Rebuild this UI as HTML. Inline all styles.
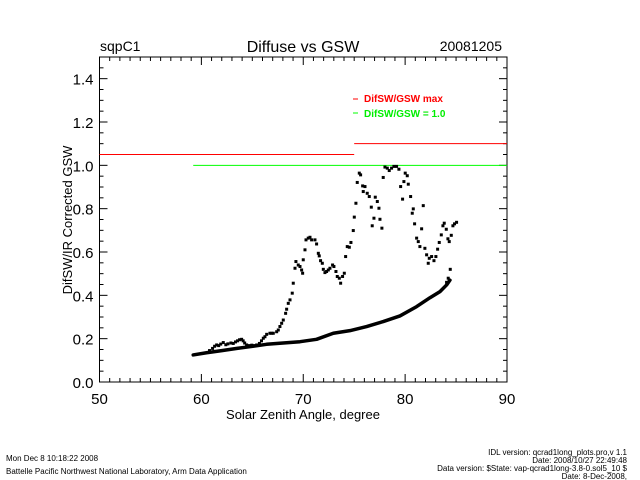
<!DOCTYPE html>
<html><head><meta charset="utf-8"><style>
body{margin:0;background:#fff;}
svg{display:block;font-family:"Liberation Sans",sans-serif;}
</style></head><body>
<svg id="chart" width="640" height="480" viewBox="0 0 640 480" xmlns="http://www.w3.org/2000/svg">
<rect width="640" height="480" fill="#fff"/>
<text x="100" y="51" font-size="14">sqpC1</text>
<text x="303" y="52" font-size="16" text-anchor="middle">Diffuse vs GSW</text>
<text x="502" y="51" font-size="14" text-anchor="end">20081205</text>
<g id="axes"></g>
<g id="marks"></g>
<text x="303" y="419" font-size="13" text-anchor="middle">Solar Zenith Angle, degree</text>
<text transform="translate(72,220) rotate(-90)" font-size="13" text-anchor="middle">DifSW/IR Corrected GSW</text>
<g font-size="10" font-weight="bold">
<line x1="353" y1="99" x2="358" y2="99" stroke="#f00"/>
<text x="364" y="102" fill="#f00">DifSW/GSW max</text>
<line x1="353" y1="113" x2="358" y2="113" stroke="#0f0"/>
<text x="364" y="117" fill="#0e0">DifSW/GSW = 1.0</text>
</g>
<g font-size="8">
<text x="6" y="461">Mon Dec  8 10:18:22 2008</text>
<text x="6" y="474">Battelle Pacific Northwest National Laboratory, Arm Data Application</text>
<text x="627" y="455" text-anchor="end">IDL version: qcrad1long_plots.pro,v 1.1</text>
<text x="627" y="463" text-anchor="end">Date: 2008/10/27 22:49:48</text>
<text x="627" y="471" text-anchor="end">Data version: $State: vap-qcrad1long-3.8-0.sol5_10 $</text>
<text x="627" y="479" text-anchor="end">Date: 8-Dec-2008,</text>
</g>
</svg>
<script>
const xTicks=[50,60,70,80,90];
const yTicks=[0.0,0.2,0.4,0.6,0.8,1.0,1.2,1.4];
const yTickLabels=["0.0","0.2","0.4","0.6","0.8","1.0","1.2","1.4"];
const maxLineX1=[50,75];const maxLineX2=[75,90];const maxLineY=[1.05,1.1];
const oneLineX=[59.2,90];const oneLineY=1.0;
const upperX=[60.8,61.1,61.3,61.5,61.7,61.9,62.15,62.4,62.6,62.9,63.13,63.35,63.55,63.75,63.95,64.1,64.25,64.44,64.7,64.95,65.2,65.43,65.7,65.9,66.08,66.24,66.41,66.73,66.9,67.06,67.39,67.55,67.71,67.88,68.04,68.27,68.37,68.53,68.7,68.92,69.02,69.19,69.28,69.51,69.68,69.84,69.94,70.0,70.17,70.27,70.49,70.66,70.82,71.15,71.31,71.48,71.57,71.7,71.87,71.97,72.13,72.29,72.46,72.62,72.88,73.01,73.21,73.34,73.54,73.67,73.86,74.03,74.16,74.32,74.52,74.68,74.91,75.01,75.17,75.3,75.5,75.63,75.83,76.06,75.89,76.28,76.48,76.68,76.94,76.77,77.07,77.27,77.43,77.53,77.72,77.85,78.02,78.25,78.44,78.67,78.9,79.16,79.39,79.56,79.75,79.88,80.01,80.21,80.31,80.54,80.7,80.8,80.93,81.13,81.29,81.45,81.62,81.78,81.94,82.11,82.27,82.37,82.6,82.83,83.02,83.19,83.35,83.55,83.71,83.84,84.04,84.2,84.33,84.53,84.69,84.85,85.05,84.43,84.23,84.07];
const upperY=[0.145,0.155,0.165,0.171,0.168,0.175,0.182,0.172,0.176,0.18,0.178,0.185,0.19,0.195,0.197,0.19,0.18,0.171,0.168,0.17,0.168,0.171,0.178,0.19,0.202,0.209,0.22,0.225,0.225,0.225,0.232,0.24,0.256,0.271,0.286,0.317,0.336,0.363,0.379,0.41,0.456,0.525,0.556,0.54,0.533,0.517,0.502,0.564,0.61,0.656,0.664,0.668,0.656,0.656,0.637,0.594,0.582,0.56,0.548,0.52,0.505,0.51,0.517,0.525,0.54,0.533,0.51,0.487,0.479,0.456,0.487,0.502,0.579,0.625,0.622,0.644,0.699,0.761,0.825,0.921,0.964,0.956,0.905,0.902,0.879,0.871,0.856,0.807,0.756,0.721,0.853,0.833,0.802,0.751,0.71,0.944,0.992,0.987,0.976,0.987,0.995,0.995,0.982,0.902,0.844,0.925,0.964,0.952,0.913,0.856,0.779,0.799,0.73,0.664,0.648,0.625,0.707,0.814,0.617,0.587,0.548,0.571,0.579,0.56,0.579,0.613,0.644,0.679,0.721,0.733,0.705,0.661,0.648,0.677,0.721,0.73,0.737,0.52,0.479,0.46];
const lowerX=[59.2,60.5,62,63.5,64.77,66.4,67.7,69.68,71.31,72.95,74.58,76.22,77.85,79.49,81.13,82.44,83.42,84.07,84.4];
const lowerY=[0.125,0.135,0.145,0.155,0.163,0.174,0.179,0.186,0.197,0.225,0.237,0.256,0.279,0.305,0.348,0.389,0.417,0.448,0.47];
const NS='http://www.w3.org/2000/svg';
const L=99.5,R=507,T=57,B=382,XMIN=50,XMAX=90,YMIN=0,YMAX=1.5;
function sx(v){return L+(v-XMIN)/(XMAX-XMIN)*(R-L);}
function sy(v){return B-(v-YMIN)/(YMAX-YMIN)*(B-T);}
function mk(tag,attrs,parent){const e=document.createElementNS(NS,tag);for(const k in attrs)e.setAttribute(k,attrs[k]);parent.appendChild(e);return e;}
const axes=document.getElementById('axes');const marks=document.getElementById('marks');
const frame=mk('rect',{x:L,y:T,width:R-L,height:B-T,fill:'none',stroke:'#000','stroke-width':1},axes);


for(let v=XMIN;v<=XMAX;v+=1){const big=v%10===0;const len=big?8:4;
 mk('line',{x1:sx(v),x2:sx(v),y1:B,y2:B-len,stroke:'#000'},axes);
 mk('line',{x1:sx(v),x2:sx(v),y1:T,y2:T+len,stroke:'#000'},axes);}
for(let i=0;i<=30;i++){const v=i*0.05;const big=i%4===0;const len=big?8:4;
 mk('line',{x1:L,x2:L+len,y1:sy(v),y2:sy(v),stroke:'#000'},axes);
 mk('line',{x1:R,x2:R-len,y1:sy(v),y2:sy(v),stroke:'#000'},axes);}
xTicks.forEach(v=>{const t=mk('text',{x:sx(v),y:B+22,'font-size':15,'text-anchor':'middle'},axes);t.textContent=String(v);
 
 });
yTicks.forEach((v,i)=>{const t=mk('text',{x:L-6,y:sy(v)+6,'font-size':15,'text-anchor':'end'},axes);t.textContent=yTickLabels[i];
 
 });
maxLineY.forEach((v,i)=>{const l=mk('line',{x1:sx(maxLineX1[i]),x2:sx(maxLineX2[i]),y1:sy(v),y2:sy(v),stroke:'#f00','stroke-width':1},marks);
 
 });
const g1=mk('line',{x1:sx(oneLineX[0]),x2:sx(oneLineX[1]),y1:sy(oneLineY),y2:sy(oneLineY),stroke:'#0f0','stroke-width':1},marks);


const pts=lowerX.map((x,i)=>sx(x)+','+sy(lowerY[i])).join(' ');
const pl=mk('polyline',{points:pts,fill:'none',stroke:'#000','stroke-width':3.5,'stroke-linejoin':'round','stroke-linecap':'round'},marks);


upperX.forEach((x,i)=>{const r=mk('rect',{x:sx(x)-1.5,y:sy(upperY[i])-1.5,width:3,height:3,fill:'#000'},marks);
 
 });
</script>
</body></html>
